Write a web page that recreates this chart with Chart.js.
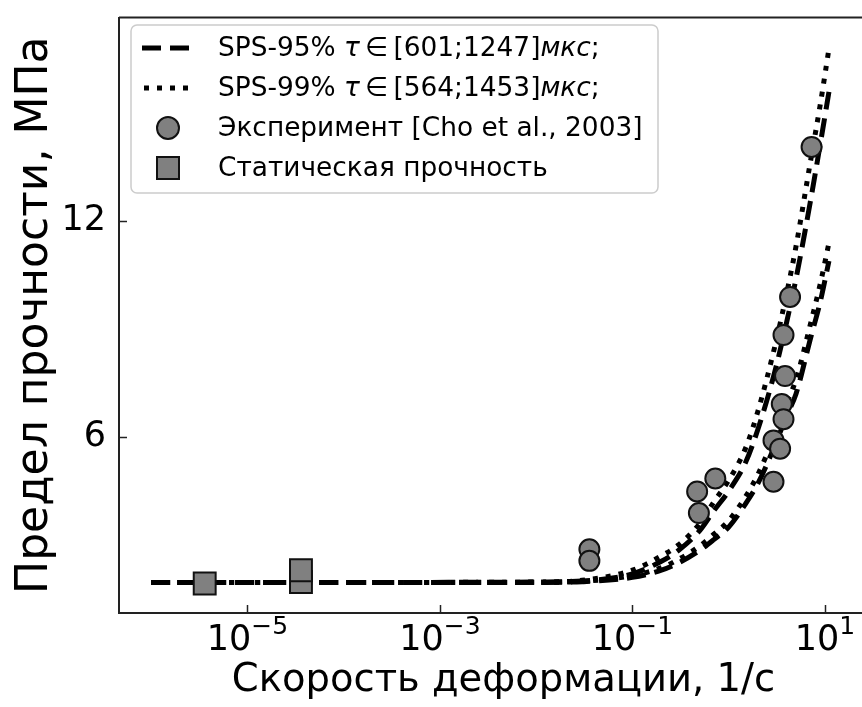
<!DOCTYPE html>
<html>
<head>
<meta charset="utf-8">
<script src="https://cdn.jsdelivr.net/npm/chart.js@4.4.1/dist/chart.umd.min.js"></script>
<style>
html, body { margin: 0; padding: 0; background: #fff; overflow: hidden; }
#wrap { width: 880px; height: 707px; }
</style>
</head>
<body>
<div id="wrap"><canvas id="chart" width="880" height="707"></canvas></div>
<script>
// strain rates where the model curves were read, 1/s
var curveRates   = [1e-6, 1e-4, 1e-2, 0.03, 0.1, 0.2, 0.3, 0.5, 0.7, 1, 1.5, 2, 3, 4, 5, 7, 9, 11];
// SPS-95%, two bounds of tau
var sps95Upper   = [1.96, 1.96, 1.97, 2.0, 2.2, 2.55, 2.85, 3.4, 3.95, 4.5, 5.3, 6.2, 7.8, 9.2, 10.4, 12.5, 14.2, 15.6];
var sps95Lower   = [1.96, 1.96, 1.96, 1.98, 2.1, 2.3, 2.5, 2.85, 3.15, 3.5, 4.15, 4.7, 5.75, 6.6, 7.2, 8.7, 9.8, 10.9];
// SPS-99%, two bounds of tau
var sps99Upper   = [1.96, 1.96, 1.97, 2.02, 2.3, 2.7, 3.0, 3.6, 4.2, 4.8, 5.7, 6.7, 8.5, 10.0, 11.3, 13.6, 15.3, 16.8];
var sps99Lower   = [1.96, 1.96, 1.96, 1.99, 2.15, 2.37, 2.6, 2.97, 3.3, 3.68, 4.35, 4.95, 6.05, 6.95, 7.6, 9.1, 10.3, 11.4];

// experiment [Cho et al., 2003]
var expRates     = [0.0357, 0.0357, 0.47, 0.49, 0.726, 7.26, 4.34, 3.71, 3.85, 3.56, 3.71, 2.92, 3.42, 2.92];
var expStrength  = [2.88, 2.56, 4.49, 3.89, 4.85, 14.07, 9.90, 8.84, 7.70, 6.92, 6.50, 5.91, 5.68, 4.76];

// static strength
var staticRates    = [3.6e-6, 3.6e-5, 3.6e-5];
var staticStrength = [1.93, 1.97, 2.30];

var xTicks = [1e-5, 1e-3, 1e-1, 1e1];
var xTickExp = ['\u22125', '\u22123', '\u22121', '1'];
var yTicks = [6, 12];

var xTitle = '\u0421\u043a\u043e\u0440\u043e\u0441\u0442\u044c \u0434\u0435\u0444\u043e\u0440\u043c\u0430\u0446\u0438\u0438, 1/\u0441';
var yTitle = '\u041f\u0440\u0435\u0434\u0435\u043b \u043f\u0440\u043e\u0447\u043d\u043e\u0441\u0442\u0438, \u041c\u041f\u0430';

var legendItems = [
    [['SPS-95% ', 'n'], ['\u03c4', 'i'], ['\u2009\u2208\u2009[601;1247]', 'n'], ['\u043c\u043a\u0441', 'i'], [';', 'n']],
    [['SPS-99% ', 'n'], ['\u03c4', 'i'], ['\u2009\u2208\u2009[564;1453]', 'n'], ['\u043c\u043a\u0441', 'i'], [';', 'n']],
    [['\u042d\u043a\u0441\u043f\u0435\u0440\u0438\u043c\u0435\u043d\u0442 [Cho et al., 2003]', 'n']],
    [['\u0421\u0442\u0430\u0442\u0438\u0447\u0435\u0441\u043a\u0430\u044f \u043f\u0440\u043e\u0447\u043d\u043e\u0441\u0442\u044c', 'n']]
];

function pts(xs, ys) {
    return xs.map(function(x, i) { return {x: x, y: ys[i]}; });
}

var FONT = '"DejaVu Sans", sans-serif';
var dash = [19, 9];
var dot = [5, 8];

function curve(data, pattern) {
    return {
        data: data, showLine: true, borderColor: '#000', borderWidth: 5,
        borderDash: pattern, pointRadius: 0, cubicInterpolationMode: 'monotone', order: 2
    };
}

var framePlugin = {
    id: 'frame',
    afterDraw: function(chart) {
        var ctx = chart.ctx, a = chart.chartArea;
        var xs = chart.scales.x, ys = chart.scales.y;
        ctx.save();
        ctx.strokeStyle = '#222';
        ctx.lineWidth = 2;
        ctx.beginPath();
        ctx.moveTo(a.left, a.top); ctx.lineTo(a.right, a.top);
        ctx.stroke();
        ctx.lineWidth = 1.5;
        // inward ticks
        xTicks.forEach(function(v) {
            var px = Math.round(xs.getPixelForValue(v)) + 0.5;
            ctx.beginPath(); ctx.moveTo(px, a.bottom); ctx.lineTo(px, a.bottom - 8); ctx.stroke();
        });
        yTicks.forEach(function(v) {
            var py = Math.round(ys.getPixelForValue(v)) + 0.5;
            ctx.beginPath(); ctx.moveTo(a.left, py); ctx.lineTo(a.left + 8, py); ctx.stroke();
        });
        // x tick labels as 10^n
        ctx.fillStyle = '#000';
        ctx.textBaseline = 'alphabetic';
        ctx.textAlign = 'left';
        xTicks.forEach(function(v, i) {
            var px = xs.getPixelForValue(v);
            ctx.font = '35px ' + FONT;
            var w1 = ctx.measureText('10').width;
            ctx.font = '25px ' + FONT;
            var w2 = ctx.measureText(xTickExp[i]).width;
            var x0 = px - (w1 + w2) / 2;
            ctx.font = '35px ' + FONT;
            ctx.fillText('10', x0, 650);
            ctx.font = '25px ' + FONT;
            ctx.fillText(xTickExp[i], x0 + w1, 634);
        });

        // x axis title
        ctx.font = '38.5px ' + FONT;
        ctx.textAlign = 'center';
        ctx.textBaseline = 'middle';
        ctx.fillText(xTitle, 503.5, 681);

        // legend
        var bx = 131, by = 25, bw = 527, bh = 168;
        ctx.fillStyle = 'rgba(255,255,255,0.85)';
        ctx.strokeStyle = '#cccccc';
        ctx.lineWidth = 1.5;
        ctx.beginPath();
        ctx.roundRect(bx, by, bw, bh, 6);
        ctx.fill(); ctx.stroke();

        var rows = [48, 88, 128, 168];
        ctx.strokeStyle = '#000';
        ctx.lineWidth = 5;
        ctx.setLineDash(dash);
        ctx.beginPath(); ctx.moveTo(142, rows[0]); ctx.lineTo(192, rows[0]); ctx.stroke();
        ctx.setLineDash(dot);
        ctx.beginPath(); ctx.moveTo(144, rows[1]); ctx.lineTo(192, rows[1]); ctx.stroke();
        ctx.setLineDash([]);
        ctx.lineWidth = 2;
        ctx.strokeStyle = '#111';
        ctx.fillStyle = '#808080';
        ctx.beginPath(); ctx.arc(168, rows[2], 11, 0, Math.PI * 2); ctx.fill(); ctx.stroke();
        ctx.beginPath(); ctx.rect(157, rows[3] - 11, 22, 22); ctx.fill(); ctx.stroke();

        ctx.fillStyle = '#000';
        ctx.textAlign = 'left';
        ctx.textBaseline = 'middle';
        legendItems.forEach(function(parts, r) {
            var x = 218;
            parts.forEach(function(p) {
                ctx.font = (p[1] === 'i' ? 'italic ' : '') + '26.4px ' + FONT;
                ctx.fillText(p[0], x, rows[r] + 1);
                x += ctx.measureText(p[0]).width;
            });
        });
        ctx.restore();
    }
};

new Chart(document.getElementById('chart'), {
    type: 'scatter',
    data: {
        datasets: [
            curve(pts(curveRates, sps95Upper), dash),
            curve(pts(curveRates, sps95Lower), dash),
            curve(pts(curveRates, sps99Upper), dot),
            curve(pts(curveRates, sps99Lower), dot),
            {
                data: pts(expRates, expStrength), pointStyle: 'circle', pointRadius: 10,
                pointBorderWidth: 2, pointBackgroundColor: '#808080', pointBorderColor: '#111', order: 1
            },
            {
                data: pts(staticRates, staticStrength), pointStyle: 'rect', pointRadius: 15.5,
                pointBorderWidth: 2, pointBackgroundColor: '#808080', pointBorderColor: '#111', order: 0
            }
        ]
    },
    options: {
        responsive: false,
        devicePixelRatio: 1,
        animation: false,
        layout: { padding: { top: 11, right: 14, left: 0, bottom: 0 } },
        plugins: { legend: { display: false }, tooltip: { enabled: false } },
        scales: {
            x: {
                type: 'logarithmic',
                min: Math.pow(10, -6.334),
                max: Math.pow(10, 1.39),
                grid: { display: false, drawTicks: false },
                border: { display: true, color: '#222', width: 2 },
                ticks: { display: false },
                afterFit: function(s) { s.height = 94; s.paddingLeft = 0; s.paddingRight = 0; }
            },
            y: {
                min: 1.11,
                max: 17.67,
                grid: { display: false, drawTicks: false },
                border: { display: true, color: '#222', width: 2 },
                afterBuildTicks: function(s) { s.ticks = yTicks.map(function(v) { return {value: v}; }); },
                ticks: { color: '#000', font: { family: FONT, size: 35 }, padding: 13 },
                title: {
                    display: true, text: yTitle,
                    color: '#000', font: { family: FONT, size: 44 }, padding: { top: 9, bottom: 0 }
                },
                afterFit: function(s) { s.width = 119; s.paddingTop = 0; s.paddingBottom = 0; }
            }
        }
    },
    plugins: [framePlugin]
});
</script>
</body>
</html>
